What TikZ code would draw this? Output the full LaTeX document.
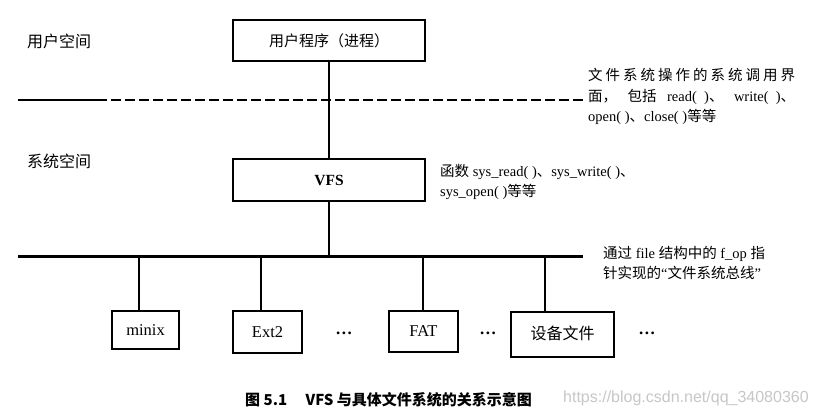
\documentclass[tikz,border=0pt]{standalone}
\usepackage{fontspec}
\setmainfont{Liberation Serif}
\newfontfamily\cjk{Noto Sans CJK SC}
\newfontfamily\wmfont{Liberation Sans}
\newcommand\zh[1]{{\cjk #1}}
\begin{document}
\begin{tikzpicture}[x=1bp,y=-1bp,
  every node/.style={inner sep=0pt},
  txt/.style={font=\fontsize{14.5bp}{17bp}\selectfont},
  lbl/.style={txt,anchor=west},
  spacelbl/.style={anchor=west,font=\fontsize{16bp}{18bp}\selectfont},
  fsbox/.style={draw,line width=1.3bp,font=\fontsize{16.5bp}{18bp}\selectfont},
  thinline/.style={line width=1.1bp},
  busline/.style={line width=3bp},
  dots/.style={font=\fontsize{17bp}{18bp}\selectfont\bfseries}]
\useasboundingbox (0,0) rectangle (817,411);
\fill[white] (0,0) rectangle (817,411);

% space labels
\node[spacelbl] (us) at (27,41) {\zh{用户空间}};
\node[spacelbl] (ks) at (27,161) {\zh{系统空间}};

% main boxes
\node[fsbox,minimum width=192bp,minimum height=41bp,font=\fontsize{15bp}{18bp}\selectfont] (user) at (329,40.5) {\zh{用户程序（进程）}};
\node[fsbox,minimum width=192bp,minimum height=42bp,font=\fontsize{15.5bp}{18bp}\selectfont] (vfs) at (329,180) {\textbf{VFS}};

% user/kernel boundary
\coordinate (dl) at (18,100);
\coordinate (dm) at (97,100);
\coordinate (dr) at (583,100);
\draw[thinline] (dl) -- (dm);
\draw[thinline,dash pattern=on 10bp off 4bp] (dm) -- (dr);

% bus
\coordinate (busL) at (18,256);
\coordinate (busR) at (583,256);
\draw[busline] (busL) -- (busR);

% vertical connectors
\draw[thinline] (user.south) -- (vfs.north);
\draw[thinline] (vfs.south) -- (vfs.south |- busL);

% file system boxes
\node[fsbox,minimum width=67bp,minimum height=38bp] (minix) at (145.5,330) {minix};
\node[fsbox,minimum width=69bp,minimum height=42bp] (ext2) at (267.5,332) {Ext2};
\node[fsbox,minimum width=69bp,minimum height=41bp] (fat) at (423.5,331.5) {FAT};
\node[fsbox,minimum width=103bp,minimum height=45bp,font=\fontsize{16bp}{18bp}\selectfont] (dev) at (562.5,334.5) {\raisebox{3bp}{\zh{设备文件}}};

\coordinate (d1) at (139,256);
\coordinate (d2) at (261,256);
\coordinate (d3) at (423,256);
\coordinate (d4) at (545,256);
\draw[thinline] (d1) -- (d1 |- minix.north);
\draw[thinline] (d2) -- (d2 |- ext2.north);
\draw[thinline] (d3) -- (d3 |- fat.north);
\draw[thinline] (d4) -- (d4 |- dev.north);

\node[dots] (dots1) at (344,333) {.\kern1.5bp.\kern1.5bp.};
\node[dots] (dots2) at (488,333) {.\kern1.5bp.\kern1.5bp.};
\node[dots] (dots3) at (647,333) {.\kern1.5bp.\kern1.5bp.};

% annotations
\node[lbl] (a1) at (588,75) {\makebox[207bp][s]{\cjk 文\hfill 件\hfill 系\hfill 统\hfill 操\hfill 作\hfill 的\hfill 系\hfill 统\hfill 调\hfill 用\hfill 界}};
\node[lbl] (a2) at (588,97) {\makebox[207bp][s]{\zh{面，}\hfill\zh{包括}\hfill read(\enspace)\zh{、}\hfill write(\enspace)\zh{、}}};
\node[lbl] (a3) at (588,117) {open(\ )\zh{、}close(\ )\zh{等等}};

\node[lbl] (b1) at (440,172) {\zh{函数} sys\_read(\ )\zh{、}sys\_write(\ )\zh{、}};
\node[lbl] (b2) at (440,192) {sys\_open(\ )\zh{等等}};

\node[lbl] (c1) at (603,254) {\zh{通过} file \zh{结构中的} f\_op \zh{指}};
\node[lbl] (c2) at (603,273) {\zh{针实现的}“\zh{文件系统总线}”};

% caption and watermark
\node[anchor=west,font=\fontsize{15bp}{17bp}\selectfont\cjk\bfseries] (cap) at (245,400) {图 5.1\quad\ VFS 与具体文件系统的关系示意图};
\node[anchor=west,font=\fontsize{16bp}{18bp}\selectfont\wmfont,text=black!22] (wm) at (563,398) {https://blog.csdn.net/qq\_34080360};
\end{tikzpicture}
\end{document}
